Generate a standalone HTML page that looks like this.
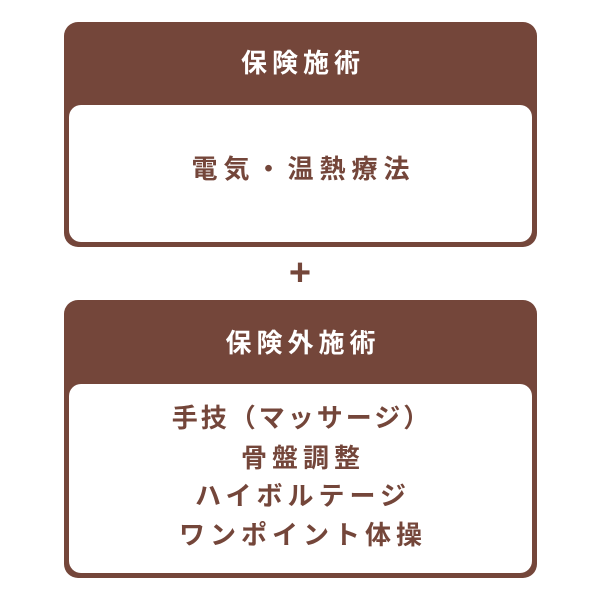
<!DOCTYPE html><html><head><style>
body{margin:0;width:600px;height:600px;background:#fff;position:relative;font-family:"Liberation Sans","Noto Sans CJK JP",sans-serif;font-weight:bold}
.box{position:absolute;left:64px;width:473px;background:#74463a;border-radius:14px}
.hd{position:absolute;left:0;right:0;color:#fff;text-align:center;font-size:26px;letter-spacing:5px;text-indent:5px}
.in{position:absolute;left:5px;right:5px;bottom:5px;background:#fff;border-radius:12px;color:#74463a;text-align:center;font-size:26px}
.l{position:absolute;left:0;right:0;line-height:32px}
</style></head><body>
<div class="box" style="top:22px;height:225px">
<div class="hd" style="top:25px;line-height:32px">保険施術</div>
<div class="in" style="top:83px"><div class="l" style="top:48px;letter-spacing:6px;text-indent:6px">電気・温熱療法</div></div>
</div>
<div style="position:absolute;left:0;width:600px;top:253px;text-align:center;color:#74463a;font-size:38px;line-height:40px">+</div>
<div class="box" style="top:300px;height:278px">
<div class="hd" style="top:27px;line-height:32px">保険外施術</div>
<div class="in" style="top:84px">
<div class="l" style="top:18px;letter-spacing:3px;text-indent:3px">手技（マッサージ）</div>
<div class="l" style="top:58px;letter-spacing:5px;text-indent:5px">骨盤調整</div>
<div class="l" style="top:96px;letter-spacing:5px;text-indent:5px">ハイボルテージ</div>
<div class="l" style="top:135px;letter-spacing:5px;text-indent:5px">ワンポイント体操</div>
</div>
</div>
</body></html>
